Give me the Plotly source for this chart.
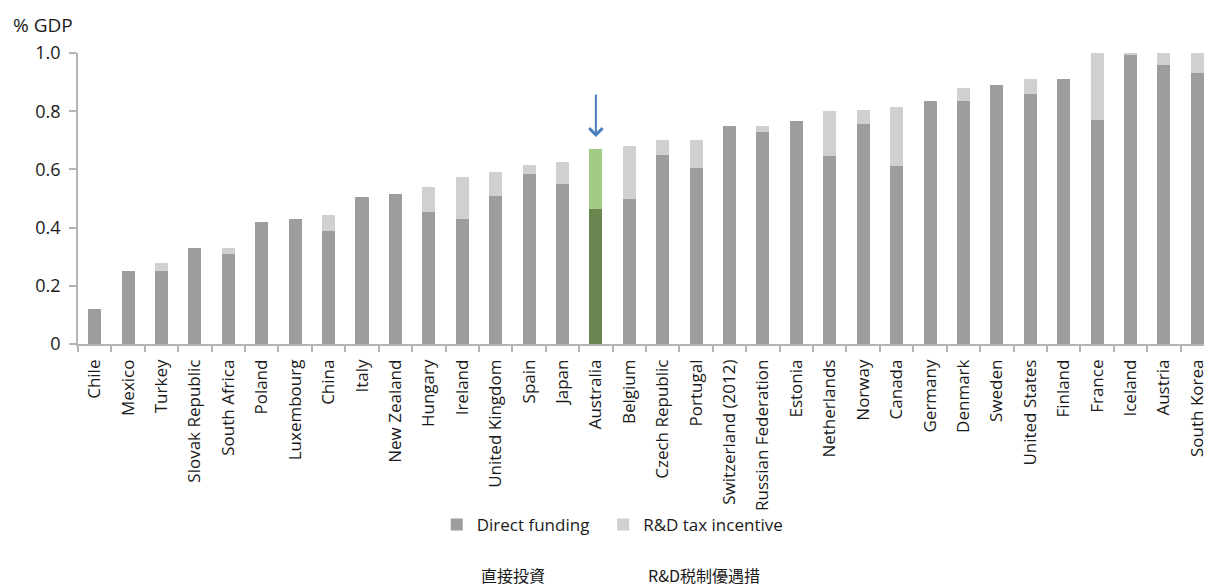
import plotly.graph_objects as go

countries = ["Chile", "Mexico", "Turkey", "Slovak Republic", "South Africa", "Poland",
             "Luxembourg", "China", "Italy", "New Zealand", "Hungary", "Ireland",
             "United Kingdom", "Spain", "Japan", "Australia", "Belgium", "Czech Republic",
             "Portugal", "Switzerland (2012)", "Russian Federation", "Estonia", "Netherlands",
             "Norway", "Canada", "Germany", "Denmark", "Sweden", "United States", "Finland",
             "France", "Iceland", "Austria", "South Korea"]

direct_funding = [0.12, 0.25, 0.25, 0.33, 0.31, 0.42, 0.43, 0.39, 0.505, 0.515, 0.455,
                  0.43, 0.51, 0.585, 0.55, 0.465, 0.50, 0.65, 0.605, 0.75, 0.73, 0.765,
                  0.645, 0.755, 0.61, 0.835, 0.835, 0.89, 0.86, 0.91, 0.77, 0.995,
                  0.96, 0.93]

tax_incentive = [0.0, 0.0, 0.03, 0.0, 0.02, 0.0, 0.0, 0.055, 0.0, 0.0, 0.085, 0.145,
                 0.08, 0.03, 0.075, 0.205, 0.18, 0.05, 0.095, 0.0, 0.02, 0.0, 0.155,
                 0.05, 0.205, 0.0, 0.045, 0.0, 0.05, 0.0, 0.23, 0.005, 0.04, 0.07]

highlight = "Australia"
c_direct = ["#6b8551" if c == highlight else "#9d9d9d" for c in countries]
c_tax = ["#a2cb86" if c == highlight else "#d0d0d0" for c in countries]

L, R, T, B = 78, 0, 53, 242
W, H = 1208, 586
pw, ph = W - L - R, H - T - B


def px_x(p):
    return (p - L) / pw


def px_y(p):
    return (H - B - p) / ph


fig = go.Figure()
fig.add_trace(go.Bar(x=countries, y=direct_funding, name="Direct funding",
                     marker=dict(color=c_direct, line=dict(width=0)), width=0.39,
                     legend="legend"))
fig.add_trace(go.Bar(x=countries, y=tax_incentive, name="R&D tax incentive",
                     marker=dict(color=c_tax, line=dict(width=0)), width=0.39,
                     legend="legend2"))

font_main = "Open Sans, Noto Sans, sans-serif"
axis_col = "#b5b5b5"
legend_common = dict(orientation="h", y=px_y(507), xanchor="left", yanchor="top",
                     font=dict(size=17, color="#1a1a1a"), itemclick=False,
                     bgcolor="rgba(0,0,0,0)")

fig.update_layout(
    barmode="stack",
    width=W, height=H,
    margin=dict(l=L, r=R, t=T, b=B, pad=0),
    plot_bgcolor="white", paper_bgcolor="white",
    font=dict(family=font_main, color="#1a1a1a"),
    showlegend=True,
    legend=dict(x=px_x(438), **legend_common),
    legend2=dict(x=px_x(605), **legend_common),
    xaxis=dict(type="category", range=[-0.5, 33.2], tickangle=-90,
               tickfont=dict(size=17, color="#1a1a1a"),
               showline=True, linecolor=axis_col, linewidth=1.5,
               ticks="outside", tickson="boundaries", ticklen=6, tickcolor=axis_col,
               tickwidth=1.5, ticklabelstandoff=7, showgrid=False, fixedrange=True),
    yaxis=dict(range=[0, 1.0], tickvals=[0, 0.2, 0.4, 0.6, 0.8, 1.0],
               ticktext=["0", "0.2", "0.4", "0.6", "0.8", "1.0"],
               tickfont=dict(size=18, color="#1a1a1a"),
               showline=True, linecolor=axis_col, linewidth=1.5,
               ticks="outside", ticklen=7, tickcolor=axis_col, tickwidth=1.5,
               ticklabelstandoff=5, showgrid=False, zeroline=False, fixedrange=True),
)

annotations = [
    dict(text="% GDP", x=px_x(11), y=px_y(25), xref="paper", yref="paper",
         xanchor="left", yanchor="middle", showarrow=False,
         font=dict(size=19, color="#1a1a1a", family=font_main)),
    dict(text="直接投資", x=px_x(515), y=px_y(575), xref="paper", yref="paper",
         xanchor="center", yanchor="middle", showarrow=False,
         font=dict(size=16, color="#1a1a1a", family="Noto Sans CJK JP")),
    dict(text="R&D税制優遇措", x=px_x(706), y=px_y(575), xref="paper", yref="paper",
         xanchor="center", yanchor="middle", showarrow=False,
         font=dict(size=16, color="#1a1a1a", family="Noto Sans CJK JP")),
    dict(x=highlight, y=px_y(137), xref="x", yref="paper",
         ax=0, ay=-44, axref="pixel", ayref="pixel", text="", showarrow=True,
         arrowhead=4, arrowsize=1.3, arrowwidth=2, arrowcolor="#4a7ebf"),
]
fig.update_layout(annotations=annotations)

fig.write_html("out.html")
